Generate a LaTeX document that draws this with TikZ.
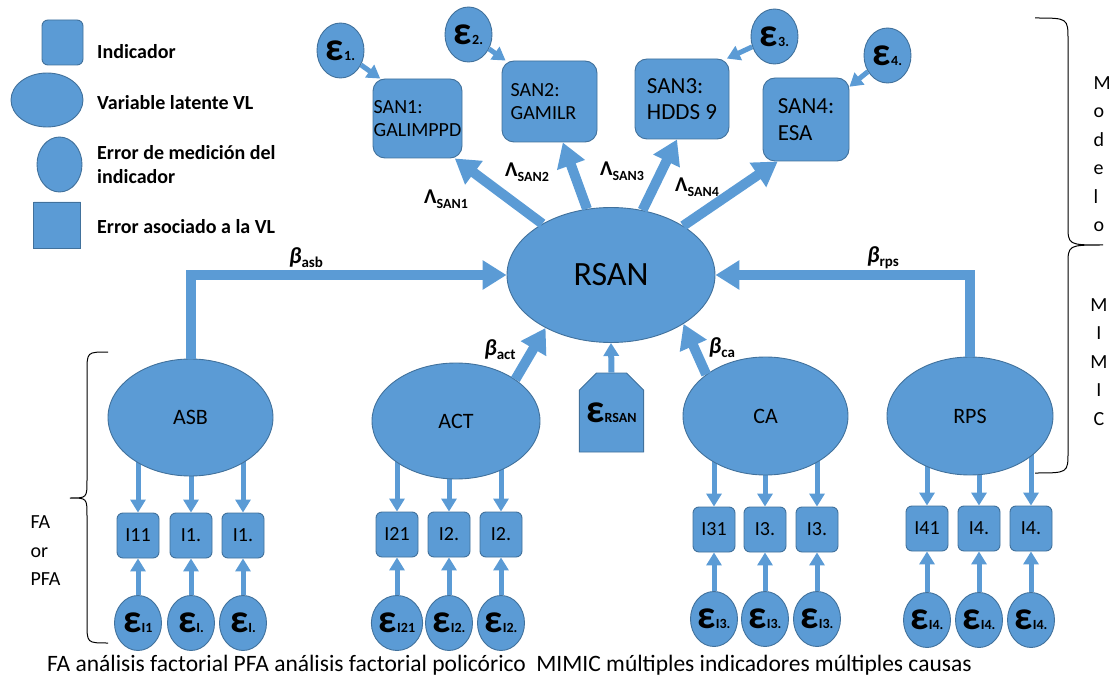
\documentclass[tikz,border=0pt]{standalone}
\usepackage{fontspec}
\setmainfont{Carlito}
\usetikzlibrary{arrows.meta,shapes.geometric,shapes.misc,calc}
\definecolor{fillblue}{HTML}{5B9BD5}
\definecolor{edgeblue}{HTML}{41719C}
\pgfdeclarelayer{bg}
\pgfsetlayers{bg,main}
% error symbol with a small bold index
\newcommand{\errsym}[1]{{\fontsize{40}{40}\selectfont\bfseries ε}{\fontsize{14}{14}\selectfont\bfseries #1}}
\newcommand{\lamlab}[1]{{\fontsize{21}{21}\selectfont\bfseries Λ}\raisebox{-5pt}{\fontsize{14}{14}\selectfont\bfseries #1}}
\newcommand{\betalab}[1]{{\fontsize{23}{23}\selectfont\bfseries\itshape β}\raisebox{-4pt}{\fontsize{15}{15}\selectfont\bfseries #1}}
\begin{document}
\begin{tikzpicture}[x=1pt,y=-1pt,
  shapefill/.style={draw=edgeblue,fill=fillblue,line width=0.9pt,inner sep=0pt},
  latent/.style={shapefill,ellipse,font=\fontsize{22}{22}\selectfont},
  indbox/.style={shapefill,rectangle,rounded corners=6pt,minimum width=42pt,minimum height=45pt,font=\fontsize{20}{20}\selectfont},
  sanbox/.style={shapefill,rectangle,rounded corners=12pt,align=left,inner ysep=0pt},
  errc/.style={shapefill,ellipse,minimum width=47pt,minimum height=55pt},
  vlerr/.style={shapefill,chamfered rectangle,chamfered rectangle corners={north west,north east},chamfered rectangle xsep=7pt,chamfered rectangle ysep=10pt},
  legtext/.style={anchor=west,align=left,inner xsep=0pt,font=\fontsize{20}{24}\selectfont\bfseries},
  thickarrow/.style={draw=fillblue,line width=10pt,-{Triangle[length=24pt,width=28pt]}},
  thinarrow/.style={draw=fillblue,line width=5pt,-{Triangle[length=13pt,width=15pt]}},
  bracepath/.style={draw=black,line width=1pt},
  plain/.style={font=\fontsize{20}{28.5}\selectfont,align=left}
]
\useasboundingbox (0,0) rectangle (1112,679);

% ---------- legend ----------
\node[shapefill,rectangle,rounded corners=6pt,minimum width=41pt,minimum height=45pt] (legind) at (62.5,42.5) {};
\node[shapefill,ellipse,minimum width=72pt,minimum height=54pt] (legvl) at (47,100) {};
\node[shapefill,ellipse,minimum width=45pt,minimum height=55pt] (legerr) at (59.5,164.5) {};
\node[vlerr,minimum width=47pt,minimum height=46pt] (legvlerr) at (57,225) {};
\node[legtext] (tind) at (97,52) {Indicador};
\node[legtext] (tvl) at (97,103) {Variable latente VL};
\node[legtext] (terr) at (97,165) {Error de medición del\\indicador};
\node[legtext] (tvlerr) at (97,227) {Error asociado a la VL};

% ---------- structural part ----------
\node[latent,minimum width=208pt,minimum height=135pt,font=\fontsize{34}{34}\selectfont] (rsan) at (611,275) {RSAN};

\node[sanbox,minimum width=89pt,minimum height=79pt,font=\fontsize{20}{23}\selectfont] (san1) at (417.5,118.5) {SAN1:\\GALIMPPD};
\node[sanbox,minimum width=95pt,minimum height=81pt,font=\fontsize{20}{23}\selectfont] (san2) at (549.5,101.5) {SAN2:\\GAMILR\hspace*{12pt}};
\node[sanbox,minimum width=94pt,minimum height=80pt,font=\fontsize{23}{26}\selectfont] (san3) at (682,99) {SAN3:\\HDDS 9};
\node[sanbox,minimum width=86pt,minimum height=83pt,font=\fontsize{23}{27}\selectfont] (san4) at (806,119.5) {SAN4:\\ESA};

\node[errc] (e1) at (340.5,50.5) {\errsym{1.}};
\node[errc] (e2) at (468.5,34.5) {\errsym{2.}};
\node[errc] (e3) at (774.5,36.5) {\errsym{3.}};
\node[errc] (e4) at (887.5,55.5) {\errsym{4.}};

\draw[thinarrow] (e1) -- (san1.133);
\draw[thinarrow] (e2) -- (san2.137);
\draw[thinarrow] (e3) -- (san3.42);
\draw[thinarrow] (e4) -- (san4.37);

\draw[thickarrow] (rsan) -- (san1.-47);
\draw[thickarrow] (rsan) -- (san2.-72);
\draw[thickarrow] (rsan) -- (san3.-97);
\draw[thickarrow] (rsan) -- (san4.-124);

\node (l1) at (446,199) {\lamlab{SAN1}};
\node (l2) at (527,172) {\lamlab{SAN2}};
\node (l3) at (622,171) {\lamlab{SAN3}};
\node (l4) at (697,187) {\lamlab{SAN4}};

% ---------- latent causes ----------
\node[latent,minimum width=165pt,minimum height=117pt] (asb) at (190.5,417.5) {ASB};
\node[latent,minimum width=168pt,minimum height=116pt] (act) at (456,421) {ACT};
\node[latent,minimum width=165pt,minimum height=118pt] (ca) at (765.5,416) {CA};
\node[latent,minimum width=166pt,minimum height=118pt] (rps) at (970,416) {RPS};

\node[vlerr,minimum width=63pt,minimum height=79pt] (ersan) at (611.5,412.5) {\raisebox{-6pt}{\errsym{RSAN}}};

\draw[thickarrow] (asb.north) |- (rsan.west);
\draw[thickarrow] (rps.north) |- (rsan.east);
\draw[thickarrow] (act.35) -- (rsan.219.5);
\draw[thickarrow] (ca.145.7) -- (rsan.-34);
\draw[thinarrow,line width=6pt] (ersan.north) -- (rsan.south);

\node (basb) at (306,258) {\betalab{asb}};
\node (brps) at (883,258) {\betalab{rps}};
\node (bact) at (500,350) {\betalab{act}};
\node (bca) at (722,348) {\betalab{ca}};

% ---------- indicators and their errors ----------
\foreach \grp/\lat/\yb/\ye/\xa/\xb/\xc/\la/\lb/\lc/\ea/\eb/\ec in {
  1/asb/535.5/623/138/191/243/I11/I1./I1./I1/I./I.,
  2/act/534.5/623/397/449/501/I21/I2./I2./I21/I2./I2.,
  3/ca/529.5/619/714/765/817/I31/I3./I3./I3./I3./I3.,
  4/rps/528.5/620/927/979/1031/I41/I4./I4./I4./I4./I4.}{
  \node[indbox] (i\grp a) at (\xa,\yb) {\la};
  \node[indbox] (i\grp b) at (\xb,\yb) {\lb};
  \node[indbox] (i\grp c) at (\xc,\yb) {\lc};
  \node[errc] (ei\grp a) at (\xa,\ye) {\errsym{\ea}};
  \node[errc] (ei\grp b) at (\xb,\ye) {\errsym{\eb}};
  \node[errc] (ei\grp c) at (\xc,\ye) {\errsym{\ec}};
  \begin{pgfonlayer}{bg}
    \foreach \k in {a,b,c}{
      \draw[thinarrow] (i\grp\k.north |- \lat.center) -- (i\grp\k.north);
    }
  \end{pgfonlayer}
  \foreach \k in {a,b,c}{
    \draw[thinarrow] (ei\grp\k.north) -- (i\grp\k.south);
  }
}

% ---------- braces and side labels ----------
\draw[bracepath] (1035,18) .. controls (1068,18) .. (1068,40) -- (1068,225)
  .. controls (1068,245) .. (1103,245) .. controls (1068,245) .. (1068,265)
  -- (1068,452) .. controls (1068,473) .. (1035,473);
\draw[bracepath] (108,352) .. controls (87,352) .. (87,372) -- (87,480)
  .. controls (87,498) .. (70,498) .. controls (87,498) .. (87,516)
  -- (87,623) .. controls (87,643) .. (108,643);

\node[plain,anchor=west] (modelo) at (1090,154) {M\\o\\d\\e\\l\\o};
\node[plain,align=center] (mimic) at (1099,362) {M\\I\\M\\I\\C};
\node[plain,anchor=west] (fapfa) at (27,551) {FA\\or\\PFA};

\node[anchor=west,inner xsep=0pt,font=\fontsize{23.5}{23.5}\selectfont] (caption) at (47,665)
  {FA análisis factorial PFA análisis factorial policórico~ MIMIC múltiples indicadores múltiples causas};
\end{tikzpicture}
\end{document}
